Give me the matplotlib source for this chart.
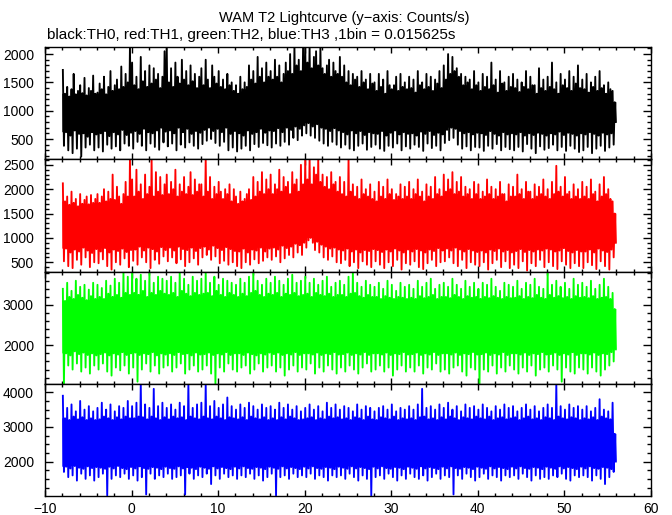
import matplotlib
matplotlib.use("Agg")
import matplotlib.pyplot as plt
import numpy as np
from matplotlib.ticker import MultipleLocator

plt.rcParams['font.family'] = ['Liberation Sans', 'DejaVu Sans']

# ---------------- data ----------------
# Light curve from -8 s to 56 s.  For every 0.25 s slot: the highest and the
# lowest count rate seen in the picture (counts/s).
t_start = -8.0
slot = 0.25

th0_hi = [1720,1300,1420,1250,1380,1650,1290,1350, 1450,1310,1580,1270,1400,1350,1620,1300,
          1320,1480,1380,1600,1290,1420,1700,1350, 1450,1550,1380,1780,1420,1650,1500,2130,
          1850,1450,1600,1380,1950,1520,1700,1420, 1800,1480,1750,1550,1650,1400,1600,2050,
          2100,1500,1750,1420,1850,1600,1480,1900, 1550,1700,1450,1800,1520,1650,1400,1600,
          1750,1450,1900,1550,1400,1800,1600,1480, 1700,1420,1550,1380,1650,1450,1500,1350,
          1450,1300,1600,1380,1500,1420,1800,1550, 1700,1480,1950,1600,1750,1500,1850,1600,
          1700,1550,1900,1600,1800,1500,1650,1850, 1700,2000,1650,2130,1800,1900,1700,2130,
          2130,1850,2130,1750,1950,2050,1800,2130, 1750,1650,1800,1900,1600,1850,1700,1650,
          1950,1600,1800,1500,1700,1450,1650,1550, 1600,1420,1700,1500,1550,1380,1650,1480,
          1500,1350,1650,1420,1550,1300,1700,1450, 1380,1450,1600,1350,1650,1420,1500,1380,
          1600,1400,1550,1320,1700,1450,1500,1380, 1650,1420,1600,1350,1550,1480,1700,1400,
          1800,1550,2000,1650,1950,1700,1750,1600, 1650,1450,1600,1500,1550,1380,1700,1450,
          1500,1350,1650,1420,1600,1380,1850,1450, 1550,1320,1700,1480,1500,1350,1600,1420,
          1650,1400,1550,1330,1500,1420,1700,1380, 1600,1450,1450,1300,1750,1400,1550,1350,
          1600,1420,1850,1380,1500,1300,1650,1450, 1550,1400,1700,1350,1600,1480,1800,1400,
          1550,1380,1650,1320,1500,1420,1600,1350, 1700,1400,1450,1300,1500,1380,1350,1150]
th0_lo = [380,620,300,560,250,650,330,590, 190,600,350,540,400,620,300,580,
          350,600,280,640,400,550,330,620, 370,580,300,660,420,570,380,610,
          330,640,450,590,380,680,300,620, 420,600,360,650,310,700,440,630,
          370,650,420,600,300,700,400,620, 350,680,440,590,380,640,330,610,
          410,660,470,700,500,640,430,680, 380,620,450,700,300,590,350,640,
          280,600,330,560,380,650,300,590, 410,620,360,680,430,610,390,650,
          350,640,420,690,380,620,450,700, 400,660,520,720,480,680,560,740,
          600,780,560,720,520,760,470,700, 420,680,380,640,450,690,400,650,
          350,620,400,580,330,650,300,600, 380,640,420,570,310,620,360,600,
          400,590,330,640,290,560,380,610, 350,650,420,580,300,620,370,590,
          330,600,400,560,360,630,290,590, 420,640,340,570,380,610,300,580,
          430,660,480,700,520,680,400,640, 330,600,370,620,300,580,360,610,
          350,600,290,570,380,640,330,590, 410,560,300,620,360,580,320,600,
          300,580,360,620,280,560,410,600, 330,570,250,610,370,590,310,560,
          340,600,400,580,300,630,360,570, 290,610,380,590,330,560,270,600,
          300,580,360,620,250,590,330,560, 380,610,290,580,350,600,400,800]

th1_hi = [2120,1750,1850,1680,1950,1720,1800,1650, 1900,1700,1780,1850,1690,1880,1720,1800,
          1900,1720,1850,2000,1750,1950,1800,2300, 1780,2050,1850,1700,1900,2150,1850,2620,
          2200,1850,2400,1950,2100,1800,2300,1900, 2050,2620,1850,2350,1950,2250,1880,2100,
          2300,1900,2150,2000,2400,1850,2100,1950, 2250,1900,2050,2350,1880,2200,1950,2100,
          2100,1850,2620,1950,2250,1800,2050,1900, 2150,1950,1800,2000,1900,2100,1750,2000,
          1850,1700,1950,1750,1800,1900,2000,1780, 2250,1850,2150,1950,2350,1900,2200,2000,
          2300,1900,2100,2000,2400,1950,2250,2050, 2150,1900,2350,2100,2200,1950,2500,2100,
          2620,2200,2620,2100,2450,2300,2620,2150, 2300,2050,2250,2000,2350,2100,2150,1950,
          2250,1900,2150,1850,2620,1950,2100,1850, 2050,1800,2200,1900,2000,1850,2100,1800,
          1950,1750,2150,1850,2050,1800,2200,1900, 2000,1780,1900,1850,2100,1800,2050,1850,
          2150,1800,2000,1900,2200,1850,1950,1750, 2100,1850,2050,1800,2250,1900,2000,1850,
          2300,1950,2200,2000,2350,1900,2150,1950, 2250,1850,2050,1900,2000,1800,2150,1900,
          2100,1800,1950,1850,2200,1900,2050,1800, 2000,1850,2150,1900,1900,1750,2100,1850,
          2050,1850,2300,1900,2000,1800,2150,1950, 1950,1800,2100,1850,2050,1900,2200,1850,
          2000,1800,2150,1900,2480,1950,2050,1850, 2250,1900,1950,1800,2100,1850,2000,1800,
          2150,1850,2050,1800,2200,1900,1950,1750, 2100,1850,2250,1900,2000,1800,1750,1500]
th1_lo = [520,780,420,700,380,760,550,720, 450,800,600,740,400,690,500,770,
          480,720,560,790,420,700,350,760, 500,730,450,780,580,710,400,750,
          530,760,450,820,600,740,500,800, 380,770,550,720,470,810,620,750,
          520,800,600,740,480,820,560,770, 420,750,500,800,580,730,450,790,
          600,820,650,760,550,840,620,790, 480,750,530,810,450,770,500,730,
          420,720,380,780,500,700,450,760, 560,740,480,800,530,720,600,780,
          550,800,620,760,500,840,580,790, 650,820,600,880,700,850,650,900,
          800,950,1000,900,750,920,700,860, 600,820,550,780,620,800,500,760,
          480,740,550,780,420,720,500,760, 380,700,520,750,450,730,400,770,
          520,750,450,710,380,760,500,720, 420,780,550,740,350,700,480,760,
          450,720,520,770,400,740,360,700, 480,760,550,730,420,790,500,740,
          520,780,600,740,480,800,420,760, 550,720,380,770,500,740,450,710,
          420,740,500,700,350,760,480,730, 550,780,400,720,520,750,380,700,
          450,730,380,770,520,710,330,750, 480,720,420,760,550,740,400,780,
          500,760,420,720,360,740,520,790, 450,730,380,700,480,750,420,720,
          380,720,500,760,440,700,360,780, 520,740,420,710,350,760,600,900]

th2_hi = [3400,3100,3550,3200,3350,3150,3600,3250, 3450,3180,3500,3120,3380,3220,3550,3150,
          3500,3200,3420,3150,3600,3280,3480,3200, 3650,3250,3550,3180,3815,3300,3700,3250,
          3815,3300,3650,3250,3750,3350,3600,3200, 3815,3300,3550,3250,3700,3350,3650,3280,
          3600,3250,3700,3300,3550,3200,3815,3350, 3650,3280,3500,3220,3700,3300,3600,3250,
          3650,3280,3815,3300,3550,3220,3700,3350, 3500,3250,3650,3200,3600,3300,3550,3250,
          3500,3200,3650,3280,3550,3220,3700,3300, 3815,3350,3600,3250,3500,3200,3650,3280,
          3550,3250,3700,3300,3600,3200,3500,3280, 3650,3250,3750,3300,3550,3220,3600,3250,
          3700,3280,3550,3200,3650,3300,3500,3250, 3600,3220,3700,3280,3450,3200,3550,3250,
          3600,3250,3500,3200,3700,3280,3815,3300, 3550,3220,3450,3180,3600,3250,3500,3200,
          3450,3200,3550,3150,3400,3220,3600,3180, 3500,3150,3350,3200,3550,3180,3450,3150,
          3500,3180,3400,3150,3600,3220,3450,3170, 3550,3200,3650,3250,3400,3150,3500,3200,
          3550,3200,3450,3170,3650,3250,3500,3200, 3400,3150,3600,3220,3450,3180,3550,3200,
          3400,3150,3550,3200,3500,3170,3650,3220, 3450,3180,3350,3150,3550,3200,3500,3170,
          3450,3180,3600,3220,3400,3150,3550,3200, 3500,3170,3650,3250,3450,3180,3400,3150,
          3815,3250,3500,3180,3600,3220,3450,3170, 3550,3200,3400,3150,3650,3220,3500,3180,
          3550,3200,3450,3170,3600,3220,3400,3150, 3500,3180,3650,3200,3450,3150,3300,2900]
th2_lo = [1050,1800,1500,1750,1400,1850,1550,1780, 1350,1820,1450,1760,1300,1800,1500,1750,
          1400,1780,1550,1820,1350,1750,1250,1800, 1450,1770,1380,1830,1500,1760,1300,1800,
          1450,1820,1100,1760,1400,1800,1550,1780, 1350,1830,1500,1750,1300,1800,1450,1770,
          1500,1800,1350,1760,1450,1830,1550,1780, 1300,1800,1400,1750,1500,1820,1350,1770,
          1400,1780,1500,1820,1300,1760,1050,1800, 1450,1770,1350,1830,1550,1760,1400,1800,
          1350,1800,1450,1760,1500,1820,1300,1780, 1400,1750,1550,1800,1350,1770,1450,1820,
          1500,1780,1350,1820,1450,1760,1250,1800, 1400,1770,1500,1830,1350,1760,1450,1800,
          1400,1800,1550,1770,1300,1820,1450,1760, 1350,1800,1500,1780,1400,1830,1300,1770,
          1450,1780,1350,1820,1500,1760,1400,1800, 1300,1770,1450,1830,1550,1760,1350,1800,
          1400,1800,1500,1770,1350,1820,1450,1760, 1250,1800,1400,1780,1500,1830,1350,1770,
          1450,1780,1350,1820,1500,1760,1300,1800, 1450,1770,1400,1830,1550,1760,1350,1800,
          1400,1800,1300,1770,1450,1820,1500,1760, 1350,1800,1250,1780,1450,1830,1400,1770,
          1050,1780,1400,1820,1350,1760,1500,1800, 1300,1770,1450,1830,1350,1760,1500,1800,
          1400,1800,1300,1770,1450,1820,1350,1760, 1500,1800,1250,1780,1400,1830,1450,1770,
          1350,1780,1500,1820,1400,1760,1100,1800, 1450,1770,1350,1830,1300,1760,1450,1800,
          1400,1800,1300,1770,1450,1820,1350,1760, 1250,1800,1400,1780,1500,1830,1600,1900]

th3_hi = [3900,3250,3550,3200,3650,3300,3450,3220, 3750,3280,3500,3200,3600,3250,3450,3200,
          3550,3220,3700,3300,3500,3250,3650,3200, 3450,3280,3600,3220,3550,3300,3750,3250,
          3600,3250,3700,3300,4236,3280,3650,3220, 3550,3300,4100,3250,3600,3200,3700,3280,
          3550,3220,3650,3300,3500,3250,3700,3280, 3600,3200,4236,3300,3550,3250,3650,3220,
          3700,3300,4236,3250,3600,3220,3750,3300, 3550,3250,3650,3200,3850,3280,3600,3250,
          3500,3220,3650,3280,3550,3200,3700,3300, 3600,3250,3500,3220,3650,3280,3550,3200,
          3600,3250,3500,3200,3700,3280,3550,3220, 3650,3300,3500,3250,3600,3200,3450,3220,
          3550,3250,3650,3280,3500,3200,3600,3250, 3450,3220,3700,3300,3550,3250,3650,3280,
          3500,3220,3600,3250,3550,3200,3450,3280, 3650,3250,3500,3200,3600,3300,3550,3220,
          3450,3200,3550,3280,3600,3250,3500,3220, 3650,3300,3450,3200,3550,3250,3500,3220,
          3600,3250,3500,3200,3650,3280,4100,3300, 3550,3220,3600,3250,3500,3200,3650,3280,
          3550,3220,3700,3300,3500,3250,3600,3200, 3450,3280,3650,3250,3550,3220,3600,3300,
          3500,3250,3650,3220,3550,3300,3450,3200, 3600,3250,3500,3280,3650,3220,3550,3250,
          3600,3280,3450,3200,3550,3250,3650,3300, 3500,3220,3600,3250,3450,3200,3550,3280,
          3650,3250,3550,3200,4236,3300,3600,3250, 3500,3220,3650,3280,3550,3250,3600,3200,
          3500,3250,3600,3220,3450,3280,3550,3200, 3800,3300,3500,3250,3450,3220,3700,2800]
th3_lo = [1700,1850,1550,1800,1600,1870,1450,1820, 1650,1790,1500,1860,1600,1810,1450,1840,
          1550,1820,1650,1790,1020,1850,1500,1800, 1600,1870,1550,1810,1650,1780,1500,1840,
          1600,1800,1450,1860,1550,1810,1050,1790, 1650,1840,1500,1820,1600,1780,1550,1850,
          1650,1810,1500,1790,1550,1860,1600,1800, 1050,1840,1650,1820,1500,1780,1600,1850,
          1550,1820,1650,1790,1350,1860,1600,1800, 1500,1840,1650,1810,1550,1780,1600,1850,
          1500,1800,1600,1860,1550,1810,1650,1790, 1500,1840,1600,1820,1450,1780,1550,1850,
          1650,1820,1020,1790,1550,1860,1600,1800, 1500,1840,1650,1810,1550,1780,1600,1850,
          1550,1800,1650,1860,1500,1810,1600,1790, 1550,1840,1450,1820,1600,1780,1550,1850,
          1600,1820,1500,1790,1650,1860,1550,1800, 1450,1840,1600,1810,1500,1780,1020,1850,
          1550,1800,1600,1860,1500,1810,1650,1790, 1550,1840,1450,1820,1600,1780,1500,1850,
          1650,1820,1550,1790,1500,1860,1600,1800, 1450,1840,1550,1810,1650,1780,1500,1850,
          1600,1800,1550,1860,1050,1810,1600,1790, 1500,1840,1650,1820,1550,1780,1450,1850,
          1550,1820,1650,1790,1500,1860,1600,1800, 1550,1840,1450,1810,1600,1780,1550,1850,
          1600,1800,1500,1860,1650,1810,1550,1790, 1450,1840,1600,1820,1500,1780,1550,1850,
          1500,1820,1600,1790,1550,1860,1650,1800, 1500,1840,1450,1810,1600,1780,1550,1850,
          1600,1800,1550,1860,1450,1810,1600,1790, 1500,1840,1350,1820,1550,1780,1700,2000]

colors = ['black', '#ff0000', '#00ff00', '#0000ff']
ylims = [(147, 2125), (300, 2620), (1042, 3817), (1005, 4240)]
ymajor = [500, 500, 1000, 1000]
yminor = [100, 100, 200, 250]
xticks = [-10, 0, 10, 20, 30, 40, 50, 60]

title = "WAM T2 Lightcurve (y\u2212axis: Counts/s)"
subtitle = "black:TH0, red:TH1, green:TH2, blue:TH3 ,1bin = 0.015625s"

series = [(th0_lo, th0_hi), (th1_lo, th1_hi), (th2_lo, th2_hi), (th3_lo, th3_hi)]

# ---------------- figure ----------------
W, H = 672, 515
fig = plt.figure(figsize=(W / 100, H / 100), dpi=100)
left_px, right_px = 45, 651
bounds = [47, 159, 272, 384, 496]

for i, (lo, hi) in enumerate(series):
    y0, y1 = bounds[i], bounds[i + 1]
    ax = fig.add_axes([left_px / W, 1 - y1 / H, (right_px - left_px) / W, (y1 - y0) / H])
    lo_a = np.asarray(lo, float)
    hi_a = np.asarray(hi, float)
    n = len(hi_a)
    k = np.arange(n)
    # dense inner part: the band every slot's neighbours also cover
    hi_pad = np.concatenate([[hi_a[0]], hi_a, [hi_a[-1]]])
    lo_pad = np.concatenate([[lo_a[0]], lo_a, [lo_a[-1]]])
    inner_hi = np.minimum(np.minimum(hi_pad[:-2], hi_pad[1:-1]), hi_pad[2:])
    inner_lo = np.maximum(np.maximum(lo_pad[:-2], lo_pad[1:-1]), lo_pad[2:])
    edges = t_start + slot * np.arange(n + 1)
    ax.stairs(inner_hi, edges, baseline=inner_lo, fill=True, color=colors[i], lw=0)
    # individual excursions
    tt = np.empty(2 * n)
    yy = np.empty(2 * n)
    tt[0::2] = t_start + slot * k + slot / 4
    tt[1::2] = t_start + slot * k + 3 * slot / 4
    yy[0::2] = hi_a
    yy[1::2] = lo_a
    ax.plot(tt, yy, color=colors[i], lw=1.35)
    ax.set_xlim(-10, 60)
    ax.set_ylim(*ylims[i])
    ax.set_xticks(xticks)
    ax.xaxis.set_minor_locator(MultipleLocator(2))
    ax.yaxis.set_major_locator(MultipleLocator(ymajor[i]))
    ax.yaxis.set_minor_locator(MultipleLocator(yminor[i]))
    ax.tick_params(which='both', direction='in', top=True, right=True,
                   labelsize=10, width=1.0, colors='black')
    ax.tick_params(which='major', axis='y', length=5.5)
    ax.tick_params(which='minor', axis='y', length=3)
    ax.tick_params(which='major', axis='x', length=4.5)
    ax.tick_params(which='minor', axis='x', length=2.5)
    ax.tick_params(axis='y', pad=8)
    for s in ax.spines.values():
        s.set_linewidth(1.0)
    if i < 3:
        ax.tick_params(labelbottom=False)
    else:
        ax.tick_params(axis='x', pad=4)

fig.text(344 / W, 1 - 18 / H, title, ha='center', va='center', fontsize=10.5)
fig.text(47 / W, 1 - 35 / H, subtitle, ha='left', va='center', fontsize=11)

fig.savefig('out.png', dpi=100)
